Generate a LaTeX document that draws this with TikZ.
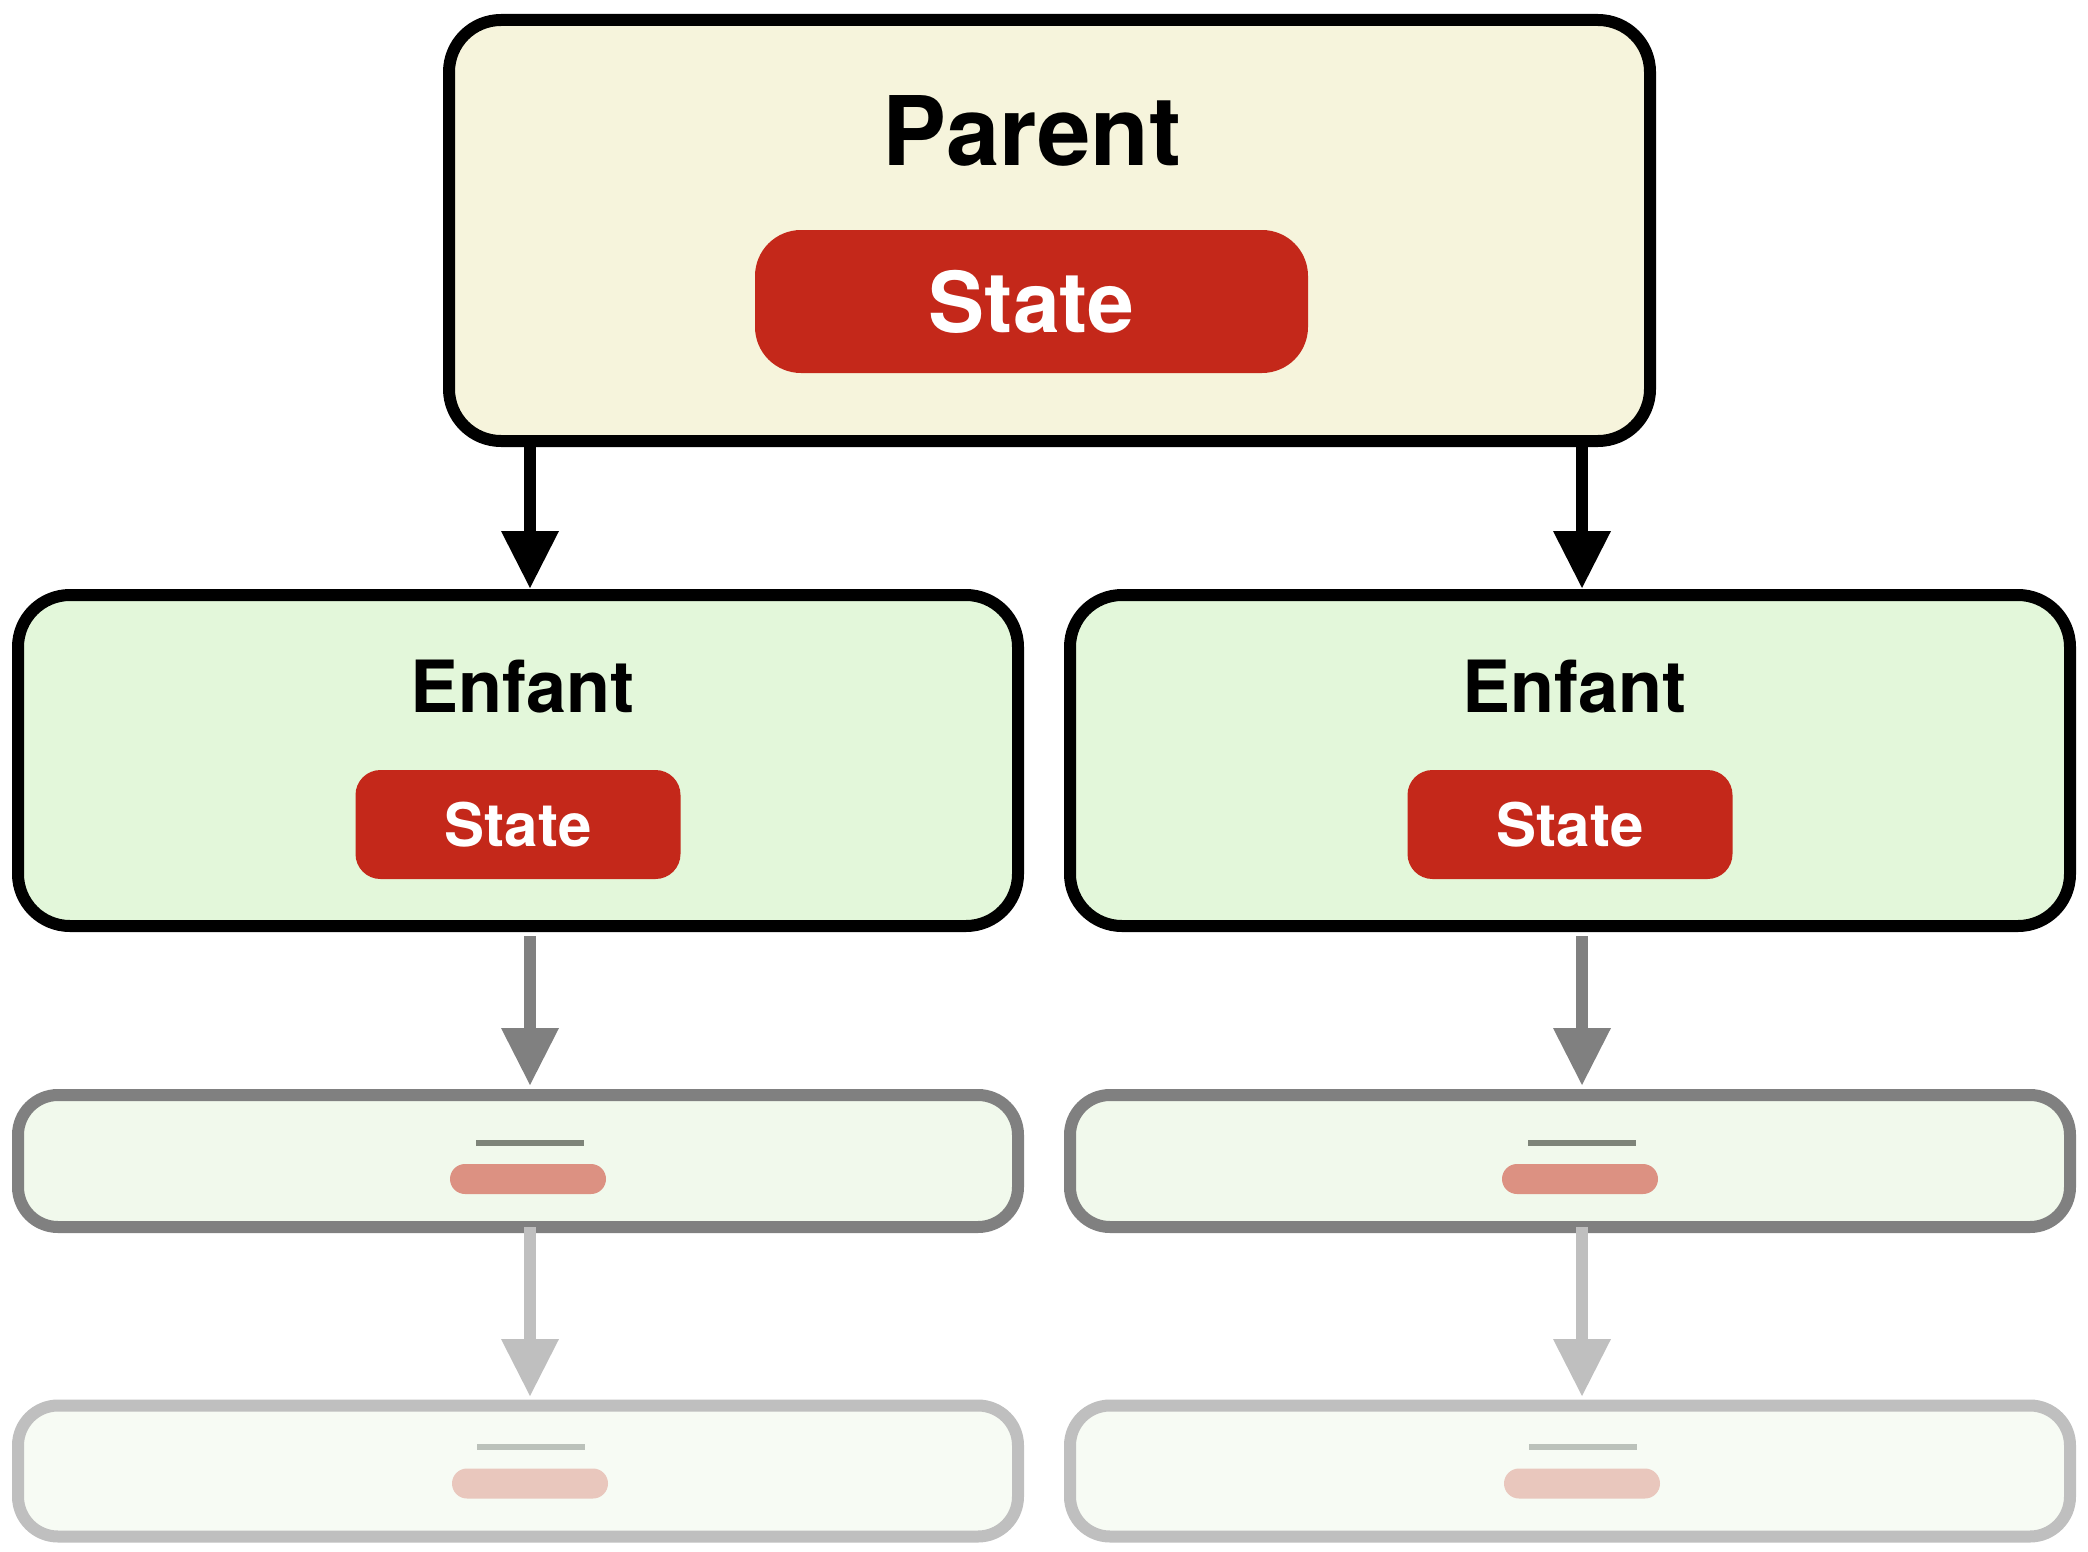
\documentclass[tikz,border=0pt]{standalone}
\usepackage{fontspec}
\setmainfont{TeX Gyre Heros}
\usetikzlibrary{arrows.meta}
\definecolor{cream}{HTML}{F6F4DC}
\definecolor{kidfill}{HTML}{E3F7DA}
\definecolor{greyfill}{HTML}{F1F9EC}
\definecolor{lightfill}{HTML}{F7FBF4}
\definecolor{statered}{HTML}{C4281A}
\definecolor{greystroke}{HTML}{808080}
\definecolor{lightstroke}{HTML}{BFBFBF}
\definecolor{darkbar}{HTML}{7E8479}
\definecolor{pinkbar}{HTML}{DC9182}
\definecolor{lightbar}{HTML}{BBC1BA}
\definecolor{lightpink}{HTML}{E9C7BD}
\tikzset{
  box/.style={draw, rectangle, inner sep=0pt, outer sep=0pt, line width=12pt},
  parentbox/.style={box, draw=black, fill=cream, rounded corners=52pt, minimum width=1201pt, minimum height=421pt},
  kidbox/.style={box, draw=black, fill=kidfill, rounded corners=52pt, minimum width=1000pt, minimum height=331pt},
  greybox/.style={box, draw=greystroke, fill=greyfill, rounded corners=40pt, minimum width=1000pt, minimum height=132pt},
  lightbox/.style={box, draw=lightstroke, fill=lightfill, rounded corners=40pt, minimum width=1000pt, minimum height=131pt},
  statebox/.style={rectangle, fill=statered, text=white, inner sep=0pt, outer sep=0pt, font=\bfseries},
  title/.style={inner sep=0pt, outer sep=0pt, anchor=base, font=\bfseries},
  bar/.style={rectangle, inner sep=0pt, outer sep=0pt, minimum width=108pt, minimum height=6pt},
  pill/.style={rectangle, inner sep=0pt, outer sep=0pt, minimum width=156pt, minimum height=30pt, rounded corners=15pt},
  conn/.style={line width=12pt, -{Triangle[length=57pt,width=58pt,line width=0pt]}},
}
\begin{document}
\begin{tikzpicture}[x=1pt,y=-1pt]
\useasboundingbox (0,0) rectangle (2088,1552);

% parent
\node[parentbox] (parent) at (1049.5,230.5) {};
\node[title, font=\bfseries\fontsize{96}{100}\selectfont] (ptitle) at (1032,165) {Parent};
\node[statebox, rounded corners=46pt, minimum width=553pt, minimum height=143pt,
      font=\bfseries\fontsize{84}{88}\selectfont] (pstate) at (1031.5,301.5) {State};

% children
\foreach \side/\dx in {L/0, R/1052} {
  \node[kidbox] (kid\side) at (518+\dx,760.5) {};
  \node[title, font=\bfseries\fontsize{72}{76}\selectfont] (kt\side) at (522.5+\dx,712) {Enfant};
  \node[statebox, rounded corners=25pt, minimum width=325pt, minimum height=109pt,
        font=\bfseries\fontsize{60}{64}\selectfont] (ks\side) at (518+\dx,824.5) {State};

  \node[greybox] (grey\side) at (518+\dx,1161) {};
  \node[bar, fill=darkbar] (gbar\side) at (530+\dx,1143) {};
  \node[pill, fill=pinkbar] (gpill\side) at (528+\dx,1179) {};

  \node[lightbox] (light\side) at (518+\dx,1471) {};
  \node[bar, fill=lightbar] (lbar\side) at (531+\dx,1447) {};
  \node[pill, fill=lightpink] (lpill\side) at (530+\dx,1483.5) {};
}

% connectors
\foreach \side in {L,R} {
  \draw[conn, draw=black, fill=black, shorten >=7pt]
    (parent.south -| gbar\side) -- (kid\side.north -| gbar\side);
  \draw[conn, draw=greystroke, fill=greystroke, shorten <=10pt, shorten >=10pt]
    (kid\side.south -| gbar\side) -- (grey\side.north -| gbar\side);
  \draw[conn, draw=lightstroke, fill=lightstroke, shorten >=9.5pt]
    (grey\side.south -| gbar\side) -- (light\side.north -| gbar\side);
}
\end{tikzpicture}
\end{document}
